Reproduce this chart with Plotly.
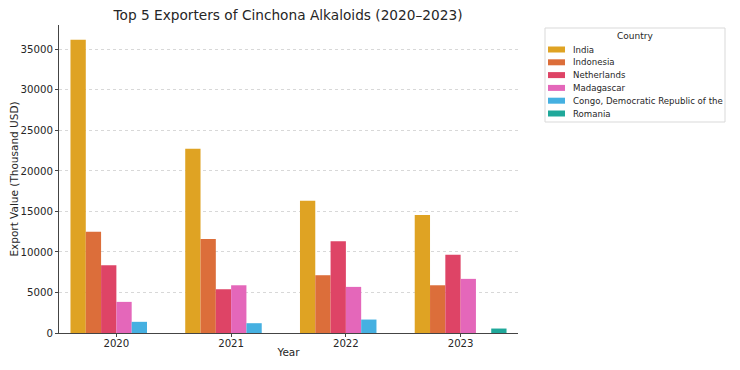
import plotly.graph_objects as go

years = ["2020", "2021", "2022", "2023"]
countries = ["India", "Indonesia", "Netherlands", "Madagascar",
             "Congo, Democratic Republic of the", "Romania"]
india = [36200, 22740, 16330, 14560]
indonesia = [12510, 11600, 7130, 5890]
netherlands = [8360, 5400, 11320, 9670]
madagascar = [3840, 5890, 5690, 6680]
congo = [1380, 1210, 1660, None]
romania = [None, None, None, 550]
series = [india, indonesia, netherlands, madagascar, congo, romania]
colors = ["#DFA323", "#DC6E3A", "#DE4466", "#E467BA", "#45B0E1", "#1FA89A"]

# The page body has an 8px default margin; size the figure to fit the window.
OFF = 8
W, H = 740 - OFF, 370 - OFF
# plot area in window pixels: x 59..518, y 25..333
L, T = 59 - OFF, 25 - OFF
R = W - (518 - OFF)
B = H - (333 - OFF)
PW, PH = W - L - R, H - T - B


def px(x):  # window pixel -> paper x
    return (x - OFF - L) / PW


def py(y):  # window pixel -> paper y
    return (H - B - (y - OFF)) / PH


fig = go.Figure()
for name, vals, col in zip(countries, series, colors):
    fig.add_trace(go.Bar(x=years, y=vals, name=name, marker_color=col,
                         marker_line_width=0, showlegend=False))

font = "DejaVu Sans, Verdana, sans-serif"
txt = "#262626"

# manual legend (matplotlib-like)
shapes = [dict(type="rect", xref="paper", yref="paper",
               x0=px(545), x1=px(725), y0=py(122), y1=py(28),
               line=dict(color="#d9d9d9", width=1), fillcolor="white", layer="above")]
annotations = [dict(text="Country", xref="paper", yref="paper", x=px(635), y=py(36),
                    xanchor="center", yanchor="middle", showarrow=False,
                    font=dict(size=9, color=txt))]
for i, (name, col) in enumerate(zip(countries, colors)):
    yc = 49.5 + i * 12.8
    shapes.append(dict(type="rect", xref="paper", yref="paper",
                       x0=px(548), x1=px(565), y0=py(yc + 3), y1=py(yc - 3),
                       line=dict(width=0), fillcolor=col, layer="above"))
    annotations.append(dict(text=name, xref="paper", yref="paper", x=px(571), y=py(yc),
                            xanchor="left", yanchor="middle", showarrow=False,
                            font=dict(size=8.6, color=txt)))

fig.update_layout(
    width=W, height=H,
    margin=dict(l=L, r=R, t=T, b=B, autoexpand=False),
    paper_bgcolor="white", plot_bgcolor="white",
    barmode="group", bargap=0.2, bargroupgap=0,
    showlegend=False,
    font=dict(family=font, size=10, color=txt),
    title=dict(text="Top 5 Exporters of Cinchona Alkaloids (2020–2023)",
               x=px(288), xref="paper", xanchor="center",
               y=1 - (15 - OFF) / H, yanchor="middle",
               font=dict(size=13.7, color=txt)),
    shapes=shapes,
    annotations=annotations,
    xaxis=dict(type="category", range=[-0.5, 3.5], automargin=False,
               showline=True, linecolor="#444444", linewidth=1,
               ticks="outside", ticklen=3, tickcolor="#444444",
               tickfont=dict(size=10.2), ticklabelstandoff=-2,
               title=dict(text="Year", font=dict(size=10.5), standoff=0),
               showgrid=False),
    yaxis=dict(range=[0, 38010], tickvals=[0, 5000, 10000, 15000, 20000, 25000, 30000, 35000],
               automargin=False,
               showline=True, linecolor="#444444", linewidth=1,
               ticks="outside", ticklen=3, tickcolor="#444444",
               tickfont=dict(size=10.2),
               showgrid=True, gridcolor="#d8d8d8", griddash="dot", gridwidth=1,
               zeroline=False, tickformat="d",
               title=dict(text="Export Value (Thousand USD)", font=dict(size=10.5), standoff=0)),
)
fig.write_html("out.html")
